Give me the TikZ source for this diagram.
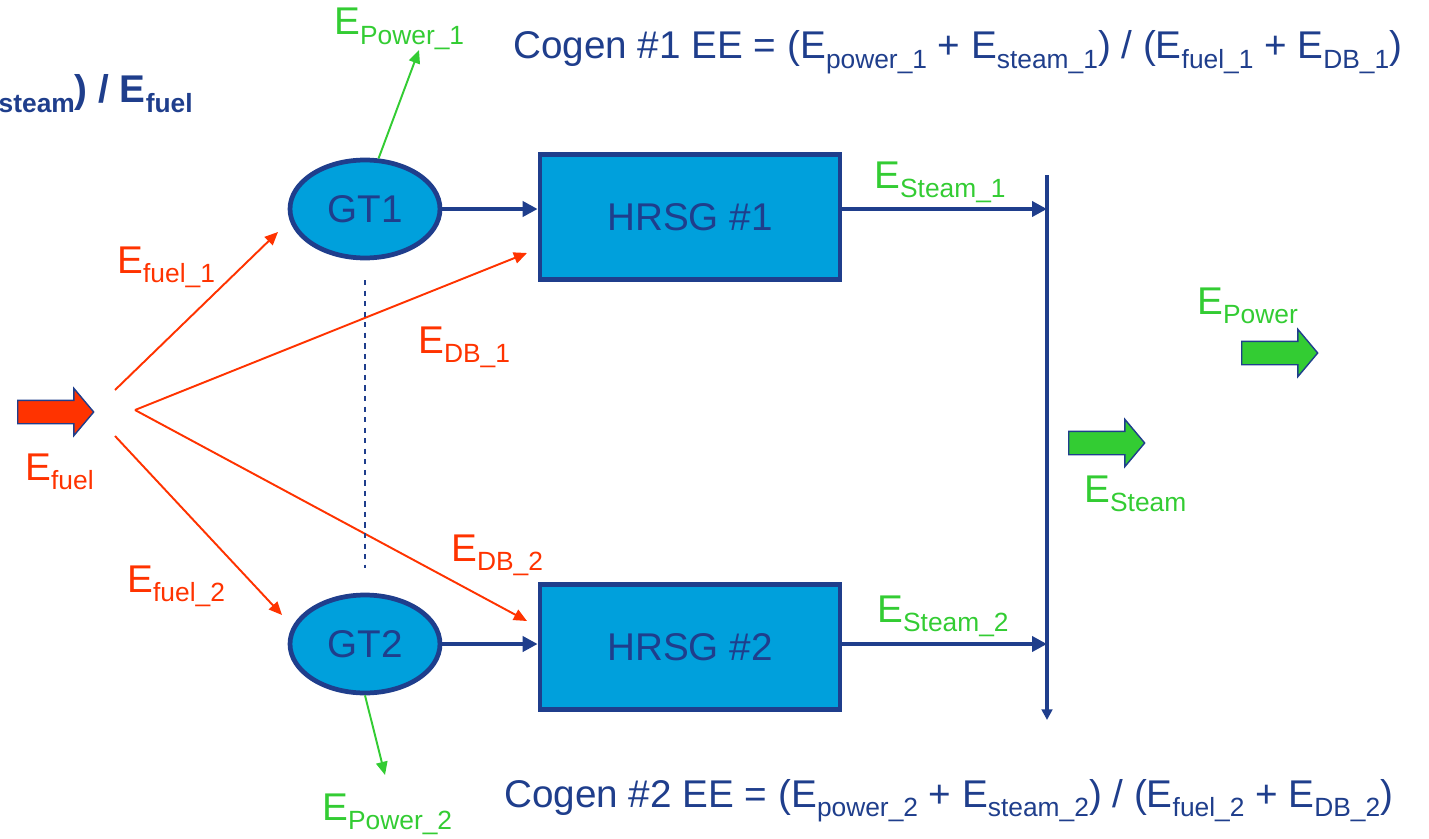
\documentclass[tikz,border=0pt]{standalone}
\usepackage{fontspec}
\setmainfont{Liberation Sans}
\usetikzlibrary{arrows.meta,shapes.geometric,shapes.arrows}
\definecolor{navy}{HTML}{1F3E8C}
\definecolor{unitfill}{HTML}{00A0DC}
\definecolor{fuelred}{HTML}{FF3300}
\definecolor{powgreen}{HTML}{33CC33}
\newcommand{\Esub}[1]{E\raisebox{-5.5pt}{\fontsize{15}{15}\selectfont #1}}

\begin{document}
\begin{tikzpicture}[
  x=0.02cm,y=-0.02cm,
  every node/.style={font=\fontsize{22}{26}\selectfont},
  gt/.style={ellipse,draw=navy,fill=unitfill,line width=2.7pt,
             minimum width=3.0cm,minimum height=1.96cm,text=navy},
  hrsg/.style={rectangle,draw=navy,fill=unitfill,line width=2.7pt,
               minimum width=6.0cm,minimum height=2.5cm,text=navy},
  lbl/.style={inner sep=0pt,anchor=base west},
  blk/.style={single arrow,draw=navy,line width=0.8pt,inner sep=0pt,
              text height=0.44cm,text depth=0pt,minimum height=1.52cm,
              single arrow head extend=0.24cm,single arrow tip angle=100,
              anchor=tail},
  flow/.style={-{Triangle[length=8.5pt,width=8.5pt]},draw=navy,line width=2.6pt},
  fuel/.style={-{Triangle[length=7.5pt,width=6.5pt]},draw=fuelred,line width=1.1pt},
  pow/.style={-{Triangle[length=7.5pt,width=6.5pt]},draw=powgreen,line width=1.1pt}
]
\useasboundingbox (0,0) rectangle (1429,838);

% units
\node[gt] (GT1) at (365,209) {GT1};
\node[gt] (GT2) at (365,644) {GT2};
\node[hrsg] (HRSG1) at (690,217) {HRSG \#1};
\node[hrsg] (HRSG2) at (690,647) {HRSG \#2};

% free ends
\coordinate (f1) at (115,390);
\coordinate (f2) at (135,410);
\coordinate (f3) at (115,436);
\coordinate (g1in) at (278,232);
\coordinate (g2in) at (282,615);
\coordinate (h1in) at (527,253);
\coordinate (h2in) at (527,621);
\coordinate (p1out) at (419,50);
\coordinate (p2out) at (385,775);
\coordinate (bustop) at (1047,175);
\coordinate (busbot) at (1047,720);
\coordinate (dtop) at (365,280);
\coordinate (dbot) at (365,568);

% block arrows
\node[blk,fill=fuelred] (fin) at (17,412) {};
\node[blk,fill=powgreen] (sout) at (1068,443) {};
\node[blk,fill=powgreen] (pout) at (1241,353) {};

% connectors
\draw[fuel] (f1) -- (g1in);
\draw[fuel] (f3) -- (g2in);
\draw[fuel] (f2) -- (h1in);
\draw[fuel] (f2) -- (h2in);
\draw[flow] (GT1) -- (GT1 -| HRSG1.west);
\draw[flow] (GT2) -- (GT2 -| HRSG2.west);
\draw[flow] (HRSG1.east |- GT1) -- (GT1 -| bustop);
\draw[flow] (HRSG2.east |- GT2) -- (GT2 -| bustop);
\draw[-{Triangle[length=6pt,width=6pt]},draw=navy,line width=2.8pt] (bustop) -- (busbot);
\draw[pow] (GT1.75) -- (p1out);
\draw[pow] (GT2.south) -- (p2out);
\draw[navy,dashed,line width=0.9pt] (dtop) -- (dbot);

% labels
\node[lbl,text=powgreen] (lp1) at (334,35) {\Esub{Power\_1}};
\node[lbl,text=powgreen] (lp2) at (322,820) {\Esub{Power\_2}};
\node[lbl,text=powgreen] (lpw) at (1197,314) {\Esub{Power}};
\node[lbl,text=powgreen] (lst) at (1084,502) {\Esub{Steam}};
\node[lbl,text=powgreen] (ls1) at (874,188) {\Esub{Steam\_1}};
\node[lbl,text=powgreen] (ls2) at (877,622) {\Esub{Steam\_2}};
\node[lbl,text=fuelred] (lf) at (25,480) {\Esub{fuel}};
\node[lbl,text=fuelred] (lf1) at (117,273) {\Esub{fuel\_1}};
\node[lbl,text=fuelred] (lf2) at (127,592) {\Esub{fuel\_2}};
\node[lbl,text=fuelred] (ld1) at (418,353) {\Esub{DB\_1}};
\node[lbl,text=fuelred] (ld2) at (451,561) {\Esub{DB\_2}};
\node[lbl,text=navy] (cg1) at (513,59)
     {Cogen \#1 EE = (\Esub{power\_1} + \Esub{steam\_1}) / (\Esub{fuel\_1} + \Esub{DB\_1})};
\node[lbl,text=navy] (cg2) at (504,807)
     {Cogen \#2 EE = (\Esub{power\_2} + \Esub{steam\_2}) / (\Esub{fuel\_2} + \Esub{DB\_2})};
\node[lbl,anchor=base east,text=navy,font=\bfseries\fontsize{22}{26}\selectfont] (ovr) at (193,103)
     {\raisebox{-5.5pt}{\fontsize{15}{15}\selectfont steam}) / \Esub{fuel}};
\end{tikzpicture}
\end{document}
